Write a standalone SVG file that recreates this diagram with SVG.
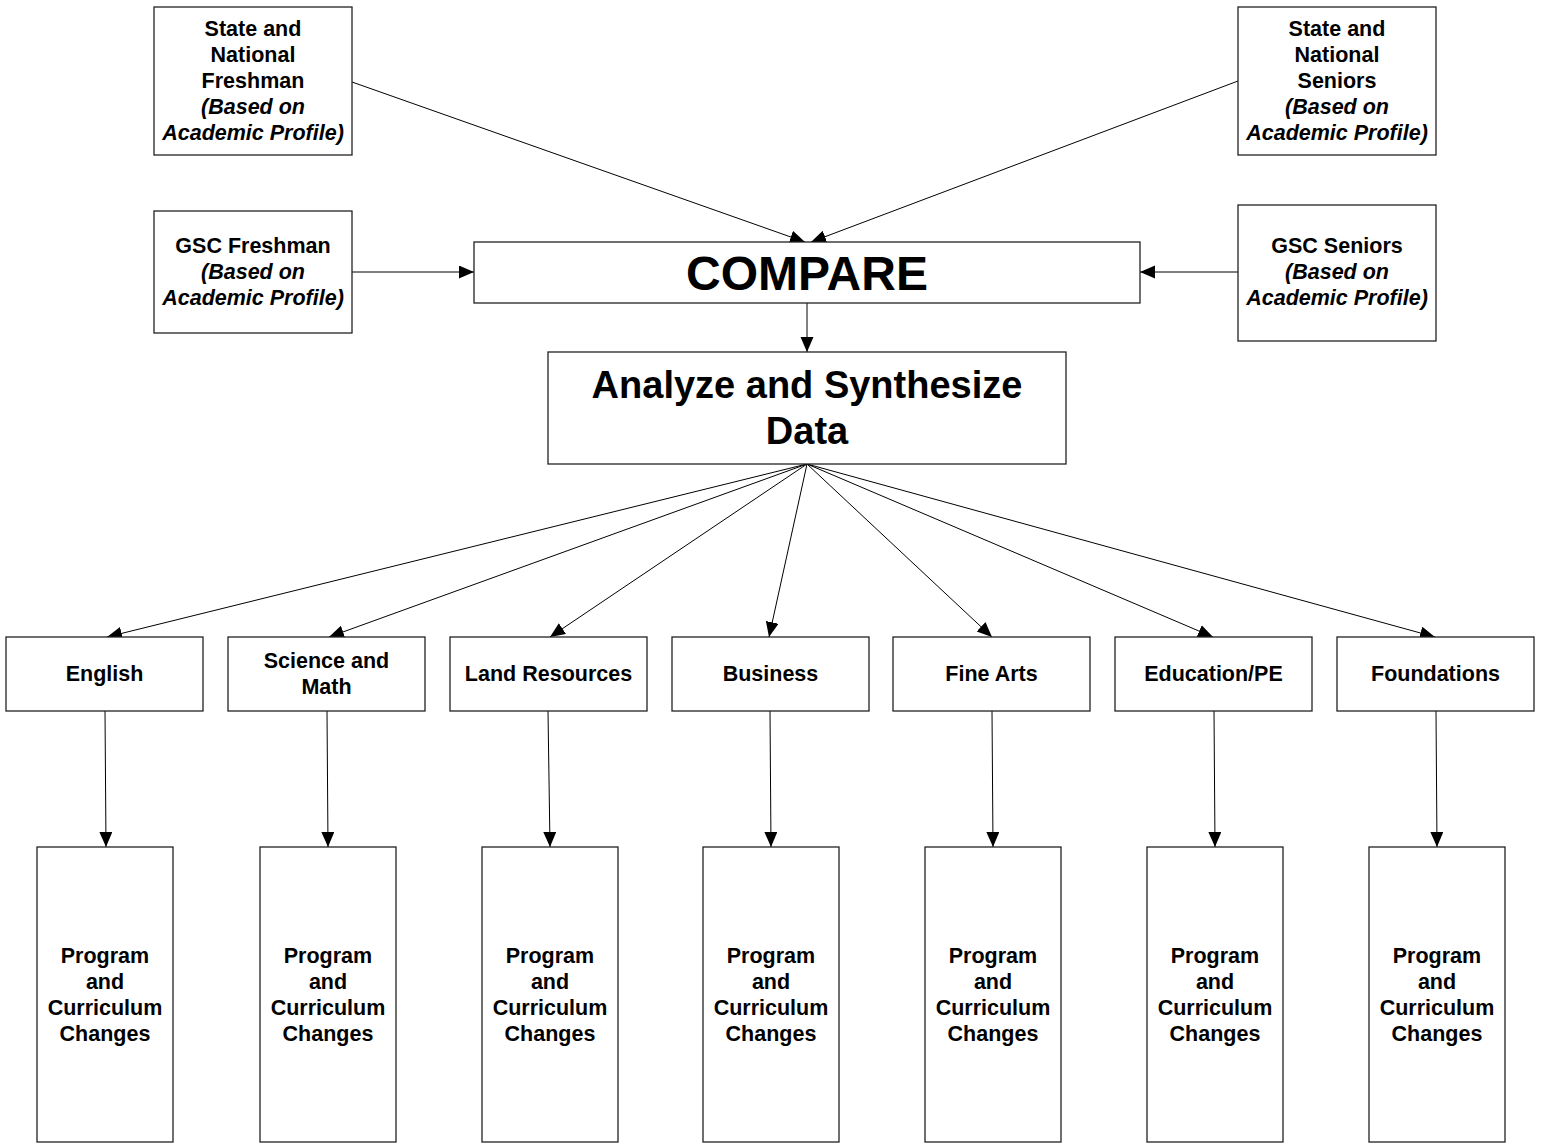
<svg xmlns="http://www.w3.org/2000/svg" width="1541" height="1144" viewBox="0 0 1541 1144">
<defs>
<style>
.box{fill:#fff;stroke:#222;stroke-width:1.3}
.t{font-family:"Liberation Sans",Arial,sans-serif;font-weight:bold;font-size:21.5px;text-anchor:middle;fill:#000}
.i{font-style:italic}
.big{font-family:"Liberation Sans",Arial,sans-serif;font-weight:bold;text-anchor:middle;fill:#000}
.c{stroke:#000;stroke-width:1;fill:none;marker-end:url(#ah)}
</style>
<marker id="ah" markerUnits="userSpaceOnUse" markerWidth="16" markerHeight="14" refX="15" refY="6.5" orient="auto">
<path d="M0,0 L15,6.5 L0,13 Z" fill="#000"/>
</marker>
</defs>
<rect width="1541" height="1144" fill="#fff"/>

<g id="connectors">
<line class="c" x1="352" y1="82" x2="805" y2="242"/>
<line class="c" x1="1238" y1="81" x2="811" y2="242"/>
<line class="c" x1="352" y1="272" x2="474" y2="272"/>
<line class="c" x1="1238" y1="272" x2="1140" y2="272"/>
<line class="c" x1="807" y1="303" x2="807" y2="352"/>
<line class="c" x1="807" y1="464" x2="107" y2="637"/>
<line class="c" x1="807" y1="464" x2="329" y2="637"/>
<line class="c" x1="807" y1="464" x2="550" y2="637"/>
<line class="c" x1="807" y1="464" x2="769" y2="637"/>
<line class="c" x1="807" y1="464" x2="992" y2="637"/>
<line class="c" x1="807" y1="464" x2="1213" y2="637"/>
<line class="c" x1="807" y1="464" x2="1435" y2="637"/>
<line class="c" x1="105" y1="711" x2="106" y2="847"/>
<line class="c" x1="327" y1="711" x2="328" y2="847"/>
<line class="c" x1="548" y1="711" x2="550" y2="847"/>
<line class="c" x1="770" y1="711" x2="771" y2="847"/>
<line class="c" x1="992" y1="711" x2="993" y2="847"/>
<line class="c" x1="1214" y1="711" x2="1215" y2="847"/>
<line class="c" x1="1436" y1="711" x2="1437" y2="847"/>
</g>

<g id="state-freshman">
<rect class="box" x="154" y="7" width="198" height="148"/>
<text class="t" x="253" y="35.5">State and</text>
<text class="t" x="253" y="61.5">National</text>
<text class="t" x="253" y="87.5">Freshman</text>
<text class="t i" x="253" y="113.5">(Based on</text>
<text class="t i" x="253" y="139.5">Academic Profile)</text>
</g>

<g id="state-seniors">
<rect class="box" x="1238" y="7" width="198" height="148"/>
<text class="t" x="1337" y="35.5">State and</text>
<text class="t" x="1337" y="61.5">National</text>
<text class="t" x="1337" y="87.5">Seniors</text>
<text class="t i" x="1337" y="113.5">(Based on</text>
<text class="t i" x="1337" y="139.5">Academic Profile)</text>
</g>

<g id="gsc-freshman">
<rect class="box" x="154" y="211" width="198" height="122"/>
<text class="t" x="253" y="252.7">GSC Freshman</text>
<text class="t i" x="253" y="278.7">(Based on</text>
<text class="t i" x="253" y="304.7">Academic Profile)</text>
</g>

<g id="gsc-seniors">
<rect class="box" x="1238" y="205" width="198" height="136"/>
<text class="t" x="1337" y="252.7">GSC Seniors</text>
<text class="t i" x="1337" y="278.7">(Based on</text>
<text class="t i" x="1337" y="304.7">Academic Profile)</text>
</g>

<g id="compare">
<rect class="box" x="474" y="242" width="666" height="61"/>
<text class="big" x="807" y="290" font-size="48">COMPARE</text>
</g>

<g id="analyze">
<rect class="box" x="548" y="352" width="518" height="112"/>
<text class="big" x="807" y="398" font-size="38">Analyze and Synthesize</text>
<text class="big" x="807" y="444" font-size="38">Data</text>
</g>

<g id="english">
<rect class="box" x="6" y="637" width="197" height="74"/>
<text class="t" x="104.5" y="681">English</text>
</g>
<g id="science">
<rect class="box" x="228" y="637" width="197" height="74"/>
<text class="t" x="326.5" y="668">Science and</text>
<text class="t" x="326.5" y="694">Math</text>
</g>
<g id="land">
<rect class="box" x="450" y="637" width="197" height="74"/>
<text class="t" x="548.5" y="681">Land Resources</text>
</g>
<g id="business">
<rect class="box" x="672" y="637" width="197" height="74"/>
<text class="t" x="770.5" y="681">Business</text>
</g>
<g id="finearts">
<rect class="box" x="893" y="637" width="197" height="74"/>
<text class="t" x="991.5" y="681">Fine Arts</text>
</g>
<g id="education">
<rect class="box" x="1115" y="637" width="197" height="74"/>
<text class="t" x="1213.5" y="681">Education/PE</text>
</g>
<g id="foundations">
<rect class="box" x="1337" y="637" width="197" height="74"/>
<text class="t" x="1435.5" y="681">Foundations</text>
</g>

<g id="prog-english">
<rect class="box" x="37" y="847" width="136" height="295"/>
<text class="t" x="105" y="963">Program</text><text class="t" x="105" y="989">and</text><text class="t" x="105" y="1015">Curriculum</text><text class="t" x="105" y="1041">Changes</text>
</g>
<g id="prog-science">
<rect class="box" x="260" y="847" width="136" height="295"/>
<text class="t" x="328" y="963">Program</text><text class="t" x="328" y="989">and</text><text class="t" x="328" y="1015">Curriculum</text><text class="t" x="328" y="1041">Changes</text>
</g>
<g id="prog-land">
<rect class="box" x="482" y="847" width="136" height="295"/>
<text class="t" x="550" y="963">Program</text><text class="t" x="550" y="989">and</text><text class="t" x="550" y="1015">Curriculum</text><text class="t" x="550" y="1041">Changes</text>
</g>
<g id="prog-business">
<rect class="box" x="703" y="847" width="136" height="295"/>
<text class="t" x="771" y="963">Program</text><text class="t" x="771" y="989">and</text><text class="t" x="771" y="1015">Curriculum</text><text class="t" x="771" y="1041">Changes</text>
</g>
<g id="prog-finearts">
<rect class="box" x="925" y="847" width="136" height="295"/>
<text class="t" x="993" y="963">Program</text><text class="t" x="993" y="989">and</text><text class="t" x="993" y="1015">Curriculum</text><text class="t" x="993" y="1041">Changes</text>
</g>
<g id="prog-education">
<rect class="box" x="1147" y="847" width="136" height="295"/>
<text class="t" x="1215" y="963">Program</text><text class="t" x="1215" y="989">and</text><text class="t" x="1215" y="1015">Curriculum</text><text class="t" x="1215" y="1041">Changes</text>
</g>
<g id="prog-foundations">
<rect class="box" x="1369" y="847" width="136" height="295"/>
<text class="t" x="1437" y="963">Program</text><text class="t" x="1437" y="989">and</text><text class="t" x="1437" y="1015">Curriculum</text><text class="t" x="1437" y="1041">Changes</text>
</g>
</svg>
